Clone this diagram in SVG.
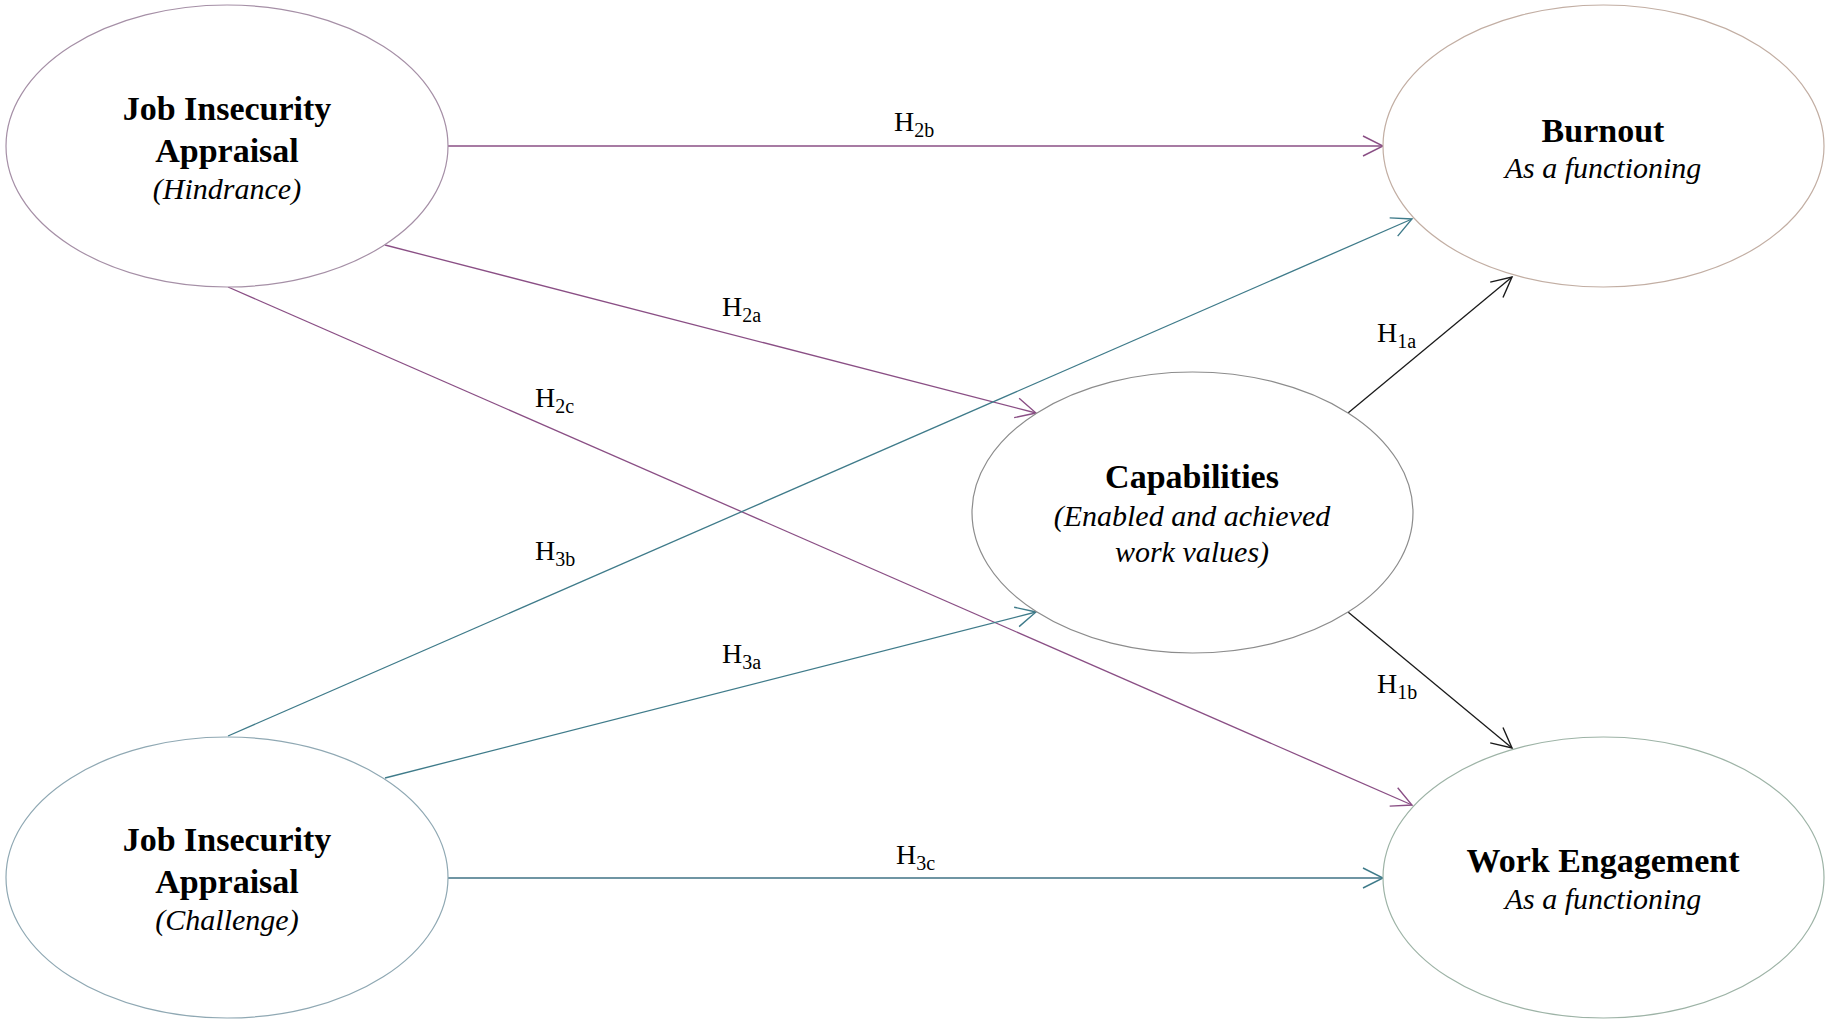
<svg xmlns="http://www.w3.org/2000/svg" width="1831" height="1025" viewBox="0 0 1831 1025">
<style>
.node{fill:#fff;stroke-width:1.2}
.t{font-family:"Liberation Serif","Times New Roman",serif;font-weight:bold;font-size:34px;fill:#000;text-anchor:middle}
.s{font-family:"Liberation Serif","Times New Roman",serif;font-style:italic;font-size:30px;fill:#000;text-anchor:middle}
.lbl{font-family:"Liberation Serif","Times New Roman",serif;font-size:28px;fill:#000}
.sub{font-size:20px}
.c{fill:none;stroke-width:1.3}
.p{stroke:#8a4f85}
.g{stroke:#3f7b8a}
.k{stroke:#1a1a1a}
</style>
<defs>
<marker id="mp" markerUnits="userSpaceOnUse" markerWidth="30" markerHeight="30" refX="0" refY="0" viewBox="-25 -15 30 30" orient="auto"><path d="M-20,-10 L0,0 L-20,10" fill="none" stroke="#8a4f85" stroke-width="1.4"/></marker>
<marker id="mg" markerUnits="userSpaceOnUse" markerWidth="30" markerHeight="30" refX="0" refY="0" viewBox="-25 -15 30 30" orient="auto"><path d="M-20,-10 L0,0 L-20,10" fill="none" stroke="#3f7b8a" stroke-width="1.4"/></marker>
<marker id="mk" markerUnits="userSpaceOnUse" markerWidth="30" markerHeight="30" refX="0" refY="0" viewBox="-25 -15 30 30" orient="auto"><path d="M-20,-10 L0,0 L-20,10" fill="none" stroke="#1a1a1a" stroke-width="1.4"/></marker>
</defs>
<rect width="1831" height="1025" fill="#fff"/>
<g id="connectors">
<line class="c p" x1="448" y1="146" x2="1383" y2="146" marker-end="url(#mp)"/>
<line class="c p" x1="385" y1="245" x2="1036" y2="413" marker-end="url(#mp)"/>
<line class="c p" x1="228" y1="287" x2="1412" y2="805" marker-end="url(#mp)"/>
<line class="c g" x1="228" y1="736" x2="1412" y2="219" marker-end="url(#mg)"/>
<line class="c g" x1="385" y1="778" x2="1036" y2="612" marker-end="url(#mg)"/>
<line class="c g" x1="448" y1="878" x2="1383" y2="878" marker-end="url(#mg)" style="stroke:#6f95a3;stroke-width:1.8"/>
<line class="c k" x1="1348" y1="413" x2="1512" y2="277" marker-end="url(#mk)"/>
<line class="c k" x1="1348" y1="612" x2="1512" y2="748" marker-end="url(#mk)"/>
<text class="lbl" x="894" y="131">H<tspan class="sub" dy="6">2b</tspan></text>
<text class="lbl" x="722" y="316">H<tspan class="sub" dy="6">2a</tspan></text>
<text class="lbl" x="535" y="407">H<tspan class="sub" dy="6">2c</tspan></text>
<text class="lbl" x="535" y="560">H<tspan class="sub" dy="6">3b</tspan></text>
<text class="lbl" x="722" y="663">H<tspan class="sub" dy="6">3a</tspan></text>
<text class="lbl" x="896" y="864">H<tspan class="sub" dy="6">3c</tspan></text>
<text class="lbl" x="1377" y="342">H<tspan class="sub" dy="6">1a</tspan></text>
<text class="lbl" x="1377" y="693">H<tspan class="sub" dy="6">1b</tspan></text>
</g>
<g id="hindrance">
<ellipse class="node" cx="227" cy="146" rx="221" ry="141" stroke="#a58fa6"/>
<text class="t" x="227" y="120">Job Insecurity</text>
<text class="t" x="227" y="162">Appraisal</text>
<text class="s" x="227" y="199">(Hindrance)</text>
</g>
<g id="challenge">
<ellipse class="node" cx="227" cy="877.5" rx="221" ry="140.5" stroke="#8fa8b3"/>
<text class="t" x="227" y="851">Job Insecurity</text>
<text class="t" x="227" y="893">Appraisal</text>
<text class="s" x="227" y="930">(Challenge)</text>
</g>
<g id="burnout">
<ellipse class="node" cx="1603.5" cy="146" rx="220.5" ry="141" stroke="#c2aea3"/>
<text class="t" x="1603" y="142">Burnout</text>
<text class="s" x="1603" y="178">As a functioning</text>
</g>
<g id="capabilities">
<ellipse class="node" cx="1192.5" cy="512.5" rx="220.5" ry="140.5" stroke="#8c8c8c"/>
<text class="t" x="1192" y="488">Capabilities</text>
<text class="s" x="1192" y="526">(Enabled and achieved</text>
<text class="s" x="1192" y="562">work values)</text>
</g>
<g id="engagement">
<ellipse class="node" cx="1603.5" cy="877.5" rx="220.5" ry="140.5" stroke="#9db3a6"/>
<text class="t" x="1603" y="872">Work Engagement</text>
<text class="s" x="1603" y="909">As a functioning</text>
</g>
</svg>
